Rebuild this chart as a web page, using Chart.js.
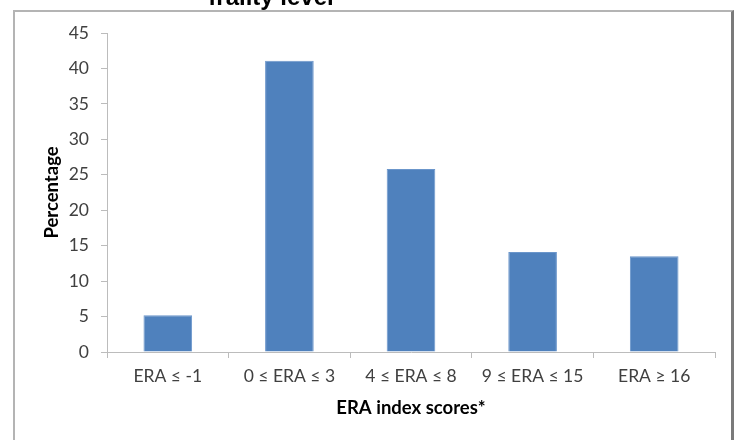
<!DOCTYPE html>
<html>
<head>
<meta charset="utf-8">
<script src="https://cdn.jsdelivr.net/npm/chart.js@4.4.1/dist/chart.umd.min.js"></script>
<style>
    html, body { margin: 0; padding: 0; background: #fff; overflow: hidden; }
    #wrap { position: relative; width: 741px; height: 440px; }
    #frame {
        position: absolute; left: 13px; top: 10px; width: 721px; height: 460px;
        border-top: 2px solid #b4b4b4; border-left: 2px solid #b4b4b4;
        border-right: 3px solid #7a7a7a; box-sizing: border-box;
    }
    canvas { position: absolute; left: 0; top: 0; }
</style>
</head>
<body>
<div id="wrap">
    <div id="frame"></div>
    <canvas id="eraChart" width="741" height="440"></canvas>
</div>
<script>
const categories = ['ERA \u2264 -1', '0 \u2264 ERA \u2264 3', '4 \u2264 ERA \u2264 8', '9 \u2264 ERA \u2264 15', 'ERA \u2265 16'];
const percentages = [5.2, 41.1, 25.8, 14.1, 13.5];
const yTicks = [0, 5, 10, 15, 20, 25, 30, 35, 40, 45];
const chartTitle = 'frailty level';

// title is cut off at the top of the picture, only its lower part shows
const cutTitle = {
    id: 'cutTitle',
    afterDraw(chart) {
        const c = chart.ctx;
        c.save();
        c.font = 'bold 24px "Liberation Sans", Arial, sans-serif';
        c.fillStyle = '#000';
        c.textAlign = 'center';
        c.textBaseline = 'alphabetic';
        c.fillText(chartTitle, 271, 5);
        c.restore();
    }
};

const tickFont = { family: 'Lato, sans-serif', size: 17.5 };
const titleFont = { family: 'Lato, sans-serif', size: 18.5, weight: 'bold' };

new Chart(document.getElementById('eraChart').getContext('2d'), {
    type: 'bar',
    data: {
        labels: categories,
        datasets: [{
            label: 'Percentage',
            data: percentages,
            backgroundColor: '#4f81bd',
            borderColor: '#6b96cb',
            borderWidth: 1,
            categoryPercentage: 1,
            barPercentage: 0.4
        }]
    },
    options: {
        responsive: false,
        animation: false,
        devicePixelRatio: 1,
        layout: { padding: { left: 41, right: 26, top: 33, bottom: 21 } },
        plugins: {
            legend: { display: false },
            tooltip: { enabled: false }
        },
        scales: {
            x: {
                border: { color: '#bcbcbc', width: 1 },
                grid: { offset: true, drawOnChartArea: false, tickLength: 6, color: '#bcbcbc' },
                ticks: { color: '#404040', font: tickFont, padding: 8, maxRotation: 0 },
                title: { display: true, text: 'ERA index scores*', color: '#000', font: titleFont, padding: 0 },
                afterFit(scale) { scale.height = 67; }
            },
            y: {
                min: 0,
                max: 45,
                border: { color: '#bcbcbc', width: 1 },
                grid: { drawOnChartArea: false, tickLength: 6, color: '#bcbcbc' },
                afterBuildTicks(scale) { scale.ticks = yTicks.map(v => ({ value: v })); },
                ticks: { color: '#404040', font: tickFont, padding: 12 },
                title: { display: true, text: 'Percentage', color: '#000', font: titleFont, padding: 0 },
                afterFit(scale) { scale.width = 66; }
            }
        }
    },
    plugins: [cutTitle]
});
</script>
</body>
</html>
